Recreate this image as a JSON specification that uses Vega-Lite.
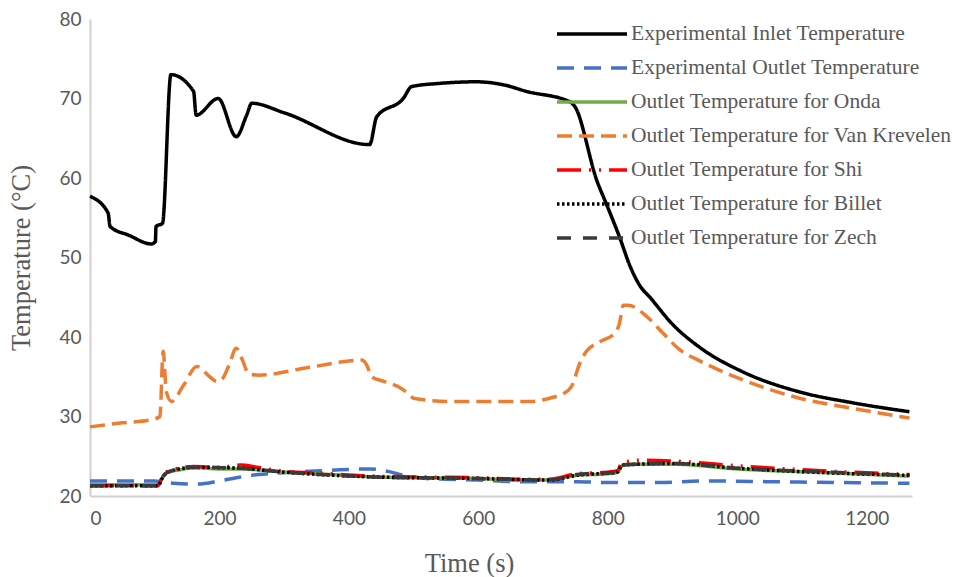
{
  "$schema": "https://vega.github.io/schema/vega-lite/v6.json",
  "width": 822,
  "height": 477,
  "autosize": {"type": "none"},
  "padding": {"left": 90, "top": 19, "right": 42, "bottom": 81},
  "background": "white",
  "config": {"view": {"stroke": null}},
  "data": {"values": [
    {"s": "Experimental Inlet Temperature", "t": 0, "T": 57.7},
    {"s": "Experimental Inlet Temperature", "t": 28, "T": 55.6},
    {"s": "Experimental Inlet Temperature", "t": 31, "T": 53.9},
    {"s": "Experimental Inlet Temperature", "t": 60, "T": 52.8},
    {"s": "Experimental Inlet Temperature", "t": 95, "T": 51.7},
    {"s": "Experimental Inlet Temperature", "t": 101, "T": 52.0},
    {"s": "Experimental Inlet Temperature", "t": 102, "T": 53.9},
    {"s": "Experimental Inlet Temperature", "t": 112, "T": 54.3},
    {"s": "Experimental Inlet Temperature", "t": 125, "T": 73.0},
    {"s": "Experimental Inlet Temperature", "t": 160, "T": 70.9},
    {"s": "Experimental Inlet Temperature", "t": 164, "T": 67.9},
    {"s": "Experimental Inlet Temperature", "t": 198, "T": 70.0},
    {"s": "Experimental Inlet Temperature", "t": 226, "T": 65.2},
    {"s": "Experimental Inlet Temperature", "t": 242, "T": 67.9},
    {"s": "Experimental Inlet Temperature", "t": 250, "T": 69.4},
    {"s": "Experimental Inlet Temperature", "t": 300, "T": 68.2},
    {"s": "Experimental Inlet Temperature", "t": 432, "T": 64.2},
    {"s": "Experimental Inlet Temperature", "t": 443, "T": 67.7},
    {"s": "Experimental Inlet Temperature", "t": 484, "T": 70.0},
    {"s": "Experimental Inlet Temperature", "t": 497, "T": 71.5},
    {"s": "Experimental Inlet Temperature", "t": 540, "T": 71.9},
    {"s": "Experimental Inlet Temperature", "t": 597, "T": 72.1},
    {"s": "Experimental Inlet Temperature", "t": 640, "T": 71.7},
    {"s": "Experimental Inlet Temperature", "t": 674, "T": 70.9},
    {"s": "Experimental Inlet Temperature", "t": 741, "T": 69.6},
    {"s": "Experimental Inlet Temperature", "t": 749, "T": 69.0},
    {"s": "Experimental Inlet Temperature", "t": 783, "T": 59.7},
    {"s": "Experimental Inlet Temperature", "t": 800, "T": 56.3},
    {"s": "Experimental Inlet Temperature", "t": 818, "T": 52.6},
    {"s": "Experimental Inlet Temperature", "t": 835, "T": 48.8},
    {"s": "Experimental Inlet Temperature", "t": 850, "T": 46.4},
    {"s": "Experimental Inlet Temperature", "t": 865, "T": 45.0},
    {"s": "Experimental Inlet Temperature", "t": 900, "T": 41.6},
    {"s": "Experimental Inlet Temperature", "t": 942, "T": 38.7},
    {"s": "Experimental Inlet Temperature", "t": 1009, "T": 35.6},
    {"s": "Experimental Inlet Temperature", "t": 1096, "T": 33.1},
    {"s": "Experimental Inlet Temperature", "t": 1180, "T": 31.7},
    {"s": "Experimental Inlet Temperature", "t": 1266, "T": 30.6},

    {"s": "Experimental Outlet Temperature", "t": 0, "T": 21.9},
    {"s": "Experimental Outlet Temperature", "t": 100, "T": 21.9},
    {"s": "Experimental Outlet Temperature", "t": 110, "T": 21.8},
    {"s": "Experimental Outlet Temperature", "t": 130, "T": 21.6},
    {"s": "Experimental Outlet Temperature", "t": 165, "T": 21.5},
    {"s": "Experimental Outlet Temperature", "t": 200, "T": 21.9},
    {"s": "Experimental Outlet Temperature", "t": 226, "T": 22.3},
    {"s": "Experimental Outlet Temperature", "t": 260, "T": 22.7},
    {"s": "Experimental Outlet Temperature", "t": 293, "T": 22.9},
    {"s": "Experimental Outlet Temperature", "t": 340, "T": 23.1},
    {"s": "Experimental Outlet Temperature", "t": 386, "T": 23.3},
    {"s": "Experimental Outlet Temperature", "t": 432, "T": 23.4},
    {"s": "Experimental Outlet Temperature", "t": 460, "T": 23.1},
    {"s": "Experimental Outlet Temperature", "t": 485, "T": 22.6},
    {"s": "Experimental Outlet Temperature", "t": 520, "T": 22.2},
    {"s": "Experimental Outlet Temperature", "t": 600, "T": 22.0},
    {"s": "Experimental Outlet Temperature", "t": 664, "T": 21.8},
    {"s": "Experimental Outlet Temperature", "t": 752, "T": 21.8},
    {"s": "Experimental Outlet Temperature", "t": 800, "T": 21.7},
    {"s": "Experimental Outlet Temperature", "t": 880, "T": 21.7},
    {"s": "Experimental Outlet Temperature", "t": 950, "T": 21.9},
    {"s": "Experimental Outlet Temperature", "t": 1050, "T": 21.8},
    {"s": "Experimental Outlet Temperature", "t": 1150, "T": 21.7},
    {"s": "Experimental Outlet Temperature", "t": 1266, "T": 21.6},

    {"s": "Outlet Temperature for Onda", "t": 0, "T": 21.4},
    {"s": "Outlet Temperature for Onda", "t": 105, "T": 21.4},
    {"s": "Outlet Temperature for Onda", "t": 112, "T": 22.3},
    {"s": "Outlet Temperature for Onda", "t": 120, "T": 23.0},
    {"s": "Outlet Temperature for Onda", "t": 140, "T": 23.3},
    {"s": "Outlet Temperature for Onda", "t": 160, "T": 23.6},
    {"s": "Outlet Temperature for Onda", "t": 200, "T": 23.4},
    {"s": "Outlet Temperature for Onda", "t": 232, "T": 23.4},
    {"s": "Outlet Temperature for Onda", "t": 300, "T": 23.0},
    {"s": "Outlet Temperature for Onda", "t": 350, "T": 22.8},
    {"s": "Outlet Temperature for Onda", "t": 438, "T": 22.4},
    {"s": "Outlet Temperature for Onda", "t": 500, "T": 22.3},
    {"s": "Outlet Temperature for Onda", "t": 600, "T": 22.2},
    {"s": "Outlet Temperature for Onda", "t": 664, "T": 22.0},
    {"s": "Outlet Temperature for Onda", "t": 710, "T": 22.0},
    {"s": "Outlet Temperature for Onda", "t": 730, "T": 22.3},
    {"s": "Outlet Temperature for Onda", "t": 752, "T": 22.6},
    {"s": "Outlet Temperature for Onda", "t": 800, "T": 22.8},
    {"s": "Outlet Temperature for Onda", "t": 815, "T": 23.0},
    {"s": "Outlet Temperature for Onda", "t": 822, "T": 23.8},
    {"s": "Outlet Temperature for Onda", "t": 830, "T": 24.0},
    {"s": "Outlet Temperature for Onda", "t": 900, "T": 24.0},
    {"s": "Outlet Temperature for Onda", "t": 1000, "T": 23.4},
    {"s": "Outlet Temperature for Onda", "t": 1148, "T": 22.9},
    {"s": "Outlet Temperature for Onda", "t": 1266, "T": 22.5},

    {"s": "Outlet Temperature for Van Krevelen", "t": 0, "T": 28.7},
    {"s": "Outlet Temperature for Van Krevelen", "t": 50, "T": 29.2},
    {"s": "Outlet Temperature for Van Krevelen", "t": 95, "T": 29.6},
    {"s": "Outlet Temperature for Van Krevelen", "t": 108, "T": 30.0},
    {"s": "Outlet Temperature for Van Krevelen", "t": 113, "T": 38.2},
    {"s": "Outlet Temperature for Van Krevelen", "t": 118, "T": 33.1},
    {"s": "Outlet Temperature for Van Krevelen", "t": 126, "T": 31.9},
    {"s": "Outlet Temperature for Van Krevelen", "t": 145, "T": 34.0},
    {"s": "Outlet Temperature for Van Krevelen", "t": 165, "T": 36.3},
    {"s": "Outlet Temperature for Van Krevelen", "t": 185, "T": 35.0},
    {"s": "Outlet Temperature for Van Krevelen", "t": 196, "T": 34.4},
    {"s": "Outlet Temperature for Van Krevelen", "t": 203, "T": 34.6},
    {"s": "Outlet Temperature for Van Krevelen", "t": 215, "T": 36.5},
    {"s": "Outlet Temperature for Van Krevelen", "t": 226, "T": 38.6},
    {"s": "Outlet Temperature for Van Krevelen", "t": 235, "T": 37.2},
    {"s": "Outlet Temperature for Van Krevelen", "t": 245, "T": 35.4},
    {"s": "Outlet Temperature for Van Krevelen", "t": 260, "T": 35.2},
    {"s": "Outlet Temperature for Van Krevelen", "t": 340, "T": 36.2},
    {"s": "Outlet Temperature for Van Krevelen", "t": 420, "T": 37.1},
    {"s": "Outlet Temperature for Van Krevelen", "t": 428, "T": 36.4},
    {"s": "Outlet Temperature for Van Krevelen", "t": 435, "T": 35.0},
    {"s": "Outlet Temperature for Van Krevelen", "t": 455, "T": 34.4},
    {"s": "Outlet Temperature for Van Krevelen", "t": 475, "T": 33.8},
    {"s": "Outlet Temperature for Van Krevelen", "t": 490, "T": 33.0},
    {"s": "Outlet Temperature for Van Krevelen", "t": 500, "T": 32.3},
    {"s": "Outlet Temperature for Van Krevelen", "t": 551, "T": 31.9},
    {"s": "Outlet Temperature for Van Krevelen", "t": 680, "T": 31.9},
    {"s": "Outlet Temperature for Van Krevelen", "t": 710, "T": 32.3},
    {"s": "Outlet Temperature for Van Krevelen", "t": 739, "T": 33.3},
    {"s": "Outlet Temperature for Van Krevelen", "t": 748, "T": 34.5},
    {"s": "Outlet Temperature for Van Krevelen", "t": 752, "T": 35.6},
    {"s": "Outlet Temperature for Van Krevelen", "t": 767, "T": 38.2},
    {"s": "Outlet Temperature for Van Krevelen", "t": 788, "T": 39.4},
    {"s": "Outlet Temperature for Van Krevelen", "t": 811, "T": 40.5},
    {"s": "Outlet Temperature for Van Krevelen", "t": 818, "T": 41.7},
    {"s": "Outlet Temperature for Van Krevelen", "t": 824, "T": 44.0},
    {"s": "Outlet Temperature for Van Krevelen", "t": 831, "T": 44.0},
    {"s": "Outlet Temperature for Van Krevelen", "t": 860, "T": 42.6},
    {"s": "Outlet Temperature for Van Krevelen", "t": 885, "T": 40.5},
    {"s": "Outlet Temperature for Van Krevelen", "t": 911, "T": 38.4},
    {"s": "Outlet Temperature for Van Krevelen", "t": 942, "T": 37.0},
    {"s": "Outlet Temperature for Van Krevelen", "t": 1009, "T": 34.6},
    {"s": "Outlet Temperature for Van Krevelen", "t": 1096, "T": 32.3},
    {"s": "Outlet Temperature for Van Krevelen", "t": 1180, "T": 31.0},
    {"s": "Outlet Temperature for Van Krevelen", "t": 1266, "T": 29.8},

    {"s": "Outlet Temperature for Shi", "t": 0, "T": 21.3},
    {"s": "Outlet Temperature for Shi", "t": 105, "T": 21.3},
    {"s": "Outlet Temperature for Shi", "t": 112, "T": 22.5},
    {"s": "Outlet Temperature for Shi", "t": 120, "T": 23.1},
    {"s": "Outlet Temperature for Shi", "t": 160, "T": 23.7},
    {"s": "Outlet Temperature for Shi", "t": 200, "T": 23.6},
    {"s": "Outlet Temperature for Shi", "t": 232, "T": 23.9},
    {"s": "Outlet Temperature for Shi", "t": 260, "T": 23.6},
    {"s": "Outlet Temperature for Shi", "t": 300, "T": 23.1},
    {"s": "Outlet Temperature for Shi", "t": 350, "T": 22.9},
    {"s": "Outlet Temperature for Shi", "t": 438, "T": 22.5},
    {"s": "Outlet Temperature for Shi", "t": 500, "T": 22.4},
    {"s": "Outlet Temperature for Shi", "t": 600, "T": 22.3},
    {"s": "Outlet Temperature for Shi", "t": 664, "T": 22.1},
    {"s": "Outlet Temperature for Shi", "t": 710, "T": 22.1},
    {"s": "Outlet Temperature for Shi", "t": 752, "T": 22.8},
    {"s": "Outlet Temperature for Shi", "t": 800, "T": 23.0},
    {"s": "Outlet Temperature for Shi", "t": 815, "T": 23.2},
    {"s": "Outlet Temperature for Shi", "t": 822, "T": 24.2},
    {"s": "Outlet Temperature for Shi", "t": 850, "T": 24.5},
    {"s": "Outlet Temperature for Shi", "t": 900, "T": 24.4},
    {"s": "Outlet Temperature for Shi", "t": 1000, "T": 23.8},
    {"s": "Outlet Temperature for Shi", "t": 1148, "T": 23.1},
    {"s": "Outlet Temperature for Shi", "t": 1266, "T": 22.7},

    {"s": "Outlet Temperature for Billet", "t": 0, "T": 21.3},
    {"s": "Outlet Temperature for Billet", "t": 105, "T": 21.3},
    {"s": "Outlet Temperature for Billet", "t": 112, "T": 22.3},
    {"s": "Outlet Temperature for Billet", "t": 120, "T": 23.0},
    {"s": "Outlet Temperature for Billet", "t": 160, "T": 23.6},
    {"s": "Outlet Temperature for Billet", "t": 232, "T": 23.5},
    {"s": "Outlet Temperature for Billet", "t": 300, "T": 23.0},
    {"s": "Outlet Temperature for Billet", "t": 438, "T": 22.4},
    {"s": "Outlet Temperature for Billet", "t": 600, "T": 22.2},
    {"s": "Outlet Temperature for Billet", "t": 710, "T": 22.0},
    {"s": "Outlet Temperature for Billet", "t": 752, "T": 22.6},
    {"s": "Outlet Temperature for Billet", "t": 815, "T": 23.0},
    {"s": "Outlet Temperature for Billet", "t": 822, "T": 23.9},
    {"s": "Outlet Temperature for Billet", "t": 900, "T": 24.1},
    {"s": "Outlet Temperature for Billet", "t": 1000, "T": 23.5},
    {"s": "Outlet Temperature for Billet", "t": 1148, "T": 22.9},
    {"s": "Outlet Temperature for Billet", "t": 1266, "T": 22.6},

    {"s": "Outlet Temperature for Zech", "t": 0, "T": 21.3},
    {"s": "Outlet Temperature for Zech", "t": 105, "T": 21.3},
    {"s": "Outlet Temperature for Zech", "t": 112, "T": 22.4},
    {"s": "Outlet Temperature for Zech", "t": 120, "T": 23.0},
    {"s": "Outlet Temperature for Zech", "t": 160, "T": 23.6},
    {"s": "Outlet Temperature for Zech", "t": 232, "T": 23.5},
    {"s": "Outlet Temperature for Zech", "t": 300, "T": 23.0},
    {"s": "Outlet Temperature for Zech", "t": 438, "T": 22.4},
    {"s": "Outlet Temperature for Zech", "t": 600, "T": 22.2},
    {"s": "Outlet Temperature for Zech", "t": 710, "T": 22.0},
    {"s": "Outlet Temperature for Zech", "t": 752, "T": 22.7},
    {"s": "Outlet Temperature for Zech", "t": 815, "T": 23.0},
    {"s": "Outlet Temperature for Zech", "t": 822, "T": 23.9},
    {"s": "Outlet Temperature for Zech", "t": 900, "T": 24.1},
    {"s": "Outlet Temperature for Zech", "t": 1000, "T": 23.5},
    {"s": "Outlet Temperature for Zech", "t": 1148, "T": 23.0},
    {"s": "Outlet Temperature for Zech", "t": 1266, "T": 22.6}
  ]},
  "mark": {"type": "line", "interpolate": "monotone", "clip": false},
  "encoding": {
    "x": {
      "field": "t", "type": "quantitative",
      "scale": {"domain": [0, 1270], "nice": false, "zero": false},
      "axis": {
        "title": "Time (s)", "values": [0, 200, 400, 600, 800, 1000, 1200], "format": "d",
        "grid": false, "ticks": false, "domainColor": "#D0D0D0", "domainWidth": 2,
        "labelFont": "Lato", "labelFontSize": 19, "labelColor": "#595959", "labelPadding": 13,
        "titleFont": "Liberation Serif", "titleFontSize": 26.5, "titleFontWeight": "normal", "titleColor": "#595959", "titlePadding": 22, "titleX": 379
      }
    },
    "y": {
      "field": "T", "type": "quantitative",
      "scale": {"domain": [20, 80], "nice": false, "zero": false},
      "axis": {
        "title": "Temperature (°C)", "values": [20, 30, 40, 50, 60, 70, 80], "format": "d",
        "grid": false, "ticks": false, "domainColor": "#D0D0D0", "domainWidth": 2,
        "labelFont": "Lato", "labelFontSize": 19, "labelColor": "#595959", "labelPadding": 9,
        "titleFont": "Liberation Serif", "titleFontSize": 26.5, "titleFontWeight": "normal", "titleColor": "#595959", "titlePadding": 23
      }
    },
    "color": {
      "field": "s", "type": "nominal",
      "scale": {
        "domain": ["Experimental Inlet Temperature", "Experimental Outlet Temperature", "Outlet Temperature for Onda", "Outlet Temperature for Van Krevelen", "Outlet Temperature for Shi", "Outlet Temperature for Billet", "Outlet Temperature for Zech"],
        "range": ["#000000", "#4472C4", "#70AD47", "#ED7D31", "#FF0000", "#000000", "#3A3A3A"]
      },
      "legend": {
        "title": null, "orient": "none", "legendX": 465, "legendY": -2,
        "symbolType": "M-1,0H3.667", "symbolSize": 900,
        "labelFont": "Liberation Serif", "labelFontSize": 21.5, "labelColor": "#595959",
        "labelLimit": 0, "labelOffset": 42, "rowPadding": 6
      }
    },
    "strokeDash": {
      "field": "s", "type": "nominal",
      "scale": {
        "domain": ["Experimental Inlet Temperature", "Experimental Outlet Temperature", "Outlet Temperature for Onda", "Outlet Temperature for Van Krevelen", "Outlet Temperature for Shi", "Outlet Temperature for Billet", "Outlet Temperature for Zech"],
        "range": [[1, 0], [17, 10], [1, 0], [15, 7], [24, 8, 2, 8, 2, 8], [2.5, 2.5], [14, 12]]
      }
    },
    "strokeWidth": {
      "field": "s", "type": "nominal",
      "scale": {
        "domain": ["Experimental Inlet Temperature", "Experimental Outlet Temperature", "Outlet Temperature for Onda", "Outlet Temperature for Van Krevelen", "Outlet Temperature for Shi", "Outlet Temperature for Billet", "Outlet Temperature for Zech"],
        "range": [3.5, 3.5, 3.5, 5, 3.5, 2.5, 3]
      }
    }
  }
}
